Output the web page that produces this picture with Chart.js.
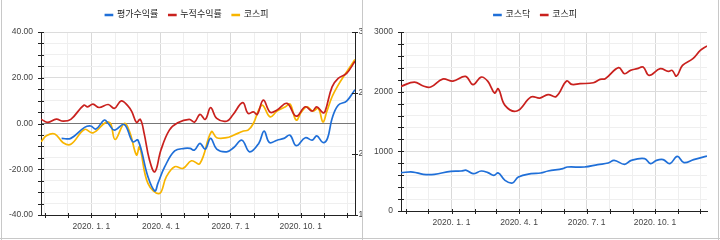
<!DOCTYPE html>
<html lang="ko">
<head>
<meta charset="utf-8">
<script src="https://cdn.jsdelivr.net/npm/chart.js@4.4.0/dist/chart.umd.min.js"></script>
<style>
  html, body { margin: 0; padding: 0; background: #fff; }
  body { width: 720px; height: 240px; position: relative; overflow: hidden; }
  .panel { position: absolute; top: 0; height: 237px; overflow: hidden; }
  #leftPanel { left: 0; width: 362px; }
  #rightPanel { left: 364px; width: 354px; }
  .vline { position: absolute; top: 0; width: 1px; height: 240px; background: #c8c8c8; }
  .hline { position: absolute; left: 0; top: 238px; width: 720px; height: 1px; background: #c8c8c8; }
</style>
</head>
<body>
<div class="panel" id="leftPanel"><canvas id="returnChart" width="374" height="237"></canvas></div>
<div class="panel" id="rightPanel"><canvas id="indexChart" width="354" height="237"></canvas></div>
<div class="vline" style="left:1px"></div>
<div class="vline" style="left:362px"></div>
<div class="vline" style="left:718px"></div>
<div class="hline"></div>
<script>
// 수익률 차트 (왼쪽)
const evalDates = ['2019-11-23','2019-12-05','2019-12-23','2019-12-31','2020-01-07','2020-01-18','2020-01-23','2020-01-31',
  '2020-02-13','2020-02-24','2020-03-02','2020-03-15','2020-03-24','2020-03-28','2020-04-06','2020-04-19','2020-05-02',
  '2020-05-09','2020-05-15','2020-05-22','2020-05-29','2020-06-05','2020-06-13','2020-06-26','2020-07-05','2020-07-16',
  '2020-07-26','2020-08-07','2020-08-14','2020-08-21','2020-08-31','2020-09-09','2020-09-17','2020-09-25','2020-10-07',
  '2020-10-16','2020-10-22','2020-10-30','2020-11-05','2020-11-11','2020-11-19','2020-11-30','2020-12-11'];
const evalReturns = [-6.5,-6.5,-1.7,-1.1,-2.4,1.5,0,-2.9,
  -0.4,-8.0,-7.3,-23.3,-29.5,-26.2,-18.9,-12.0,-10.9,
  -10.9,-11.6,-8.7,-11.2,-6.5,-11.2,-12.4,-10.6,-7.3,
  -12.4,-8.7,-3.3,-8.3,-7.3,-6.5,-5.1,-9.7,-6.2,
  -7.3,-5.4,-8.3,-6.5,2.2,8.0,9.8,14.8];

const cumDates = ['2019-10-27','2019-11-05','2019-11-16','2019-11-25','2019-12-05','2019-12-22','2019-12-27','2020-01-03',
  '2020-01-11','2020-01-23','2020-01-31','2020-02-09','2020-02-18','2020-02-23','2020-02-29','2020-03-05','2020-03-10',
  '2020-03-17','2020-03-24','2020-04-01','2020-04-12','2020-04-23','2020-05-08','2020-05-15','2020-05-22','2020-05-29',
  '2020-06-05','2020-06-13','2020-06-26','2020-07-04','2020-07-17','2020-07-24','2020-07-31','2020-08-05','2020-08-13',
  '2020-08-22','2020-08-31','2020-09-13','2020-09-25','2020-10-07','2020-10-16','2020-10-22','2020-10-30','2020-11-02',
  '2020-11-11','2020-11-19','2020-11-30','2020-12-11'];
const cumReturns = [1.9,0.5,1.9,1.0,1.8,8.0,7.3,8.5,
  7.0,8.3,6.6,9.9,7.6,5.1,0.5,1.8,-4.3,
  -16.0,-21.1,-11.6,-2.9,0.3,1.8,0.6,4.0,1.8,
  6.9,2.2,1.0,3.7,9.1,4.4,5.1,4.0,10.2,
  4.9,5.9,8.8,3.2,7.3,5.4,7.3,4.7,5.4,
  16.0,19.7,21.9,27.2];

const kospiRetDates = ['2019-10-27','2019-11-03','2019-11-14','2019-11-25','2019-12-05','2019-12-23','2020-01-03','2020-01-20',
  '2020-01-26','2020-02-01','2020-02-13','2020-02-20','2020-02-29','2020-03-04','2020-03-15','2020-03-30','2020-04-08',
  '2020-04-19','2020-04-30','2020-05-11','2020-05-22','2020-06-06','2020-06-13','2020-06-26','2020-07-05','2020-07-18',
  '2020-07-24','2020-07-31','2020-08-07','2020-08-12','2020-08-22','2020-08-31','2020-09-11','2020-09-17','2020-09-25',
  '2020-10-02','2020-10-09','2020-10-17','2020-10-24','2020-10-30','2020-11-04','2020-11-11','2020-11-19','2020-11-28',
  '2020-12-11'];
const kospiReturns = [-8.0,-5.4,-4.6,-8.4,-9.1,-2.6,-4.1,0.5,
  0,-7.0,0,-3.6,-13.8,-10.2,-26.2,-30.6,-23.3,
  -18.9,-19.6,-16.3,-17.5,-3.6,-6.2,-6.2,-5.1,-3.3,
  -2.9,0,5.9,8.0,2.9,5.4,7.3,8.5,1.5,
  5.1,7.3,5.4,6.6,0.7,5.1,11.7,16.8,21.5,
  28.0];

// 지수 차트 (오른쪽)
const kosdaqDates = ['2019-10-25','2019-11-10','2019-11-24','2019-12-09','2019-12-31','2020-01-14','2020-01-21','2020-01-30',
  '2020-02-10','2020-02-19','2020-02-27','2020-03-04','2020-03-13','2020-03-23','2020-03-31','2020-04-17','2020-04-30',
  '2020-05-10','2020-05-30','2020-06-05','2020-06-28','2020-07-16','2020-07-30','2020-08-07','2020-08-21','2020-08-30',
  '2020-09-17','2020-09-25','2020-10-03','2020-10-12','2020-10-21','2020-10-31','2020-11-09','2020-11-22','2020-12-10'];
const kosdaqValues = [643,653,615,615,665,670,682,626,
  670,643,598,637,514,469,570,626,637,
  670,710,737,737,777,804,849,782,849,
  878,794,849,861,794,916,811,861,921];

const kospiDates = ['2019-10-25','2019-11-12','2019-11-24','2019-12-04','2019-12-20','2020-01-03','2020-01-20','2020-01-30',
  '2020-02-10','2020-02-19','2020-02-28','2020-03-04','2020-03-13','2020-03-29','2020-04-17','2020-04-29','2020-05-10',
  '2020-05-21','2020-06-04','2020-06-11','2020-06-22','2020-07-10','2020-07-19','2020-07-26','2020-08-13','2020-08-21',
  '2020-08-29','2020-09-07','2020-09-15','2020-09-23','2020-10-08','2020-10-19','2020-10-24','2020-10-30','2020-11-07',
  '2020-11-21','2020-12-01','2020-12-10'];
const kospiValues = [2089,2161,2094,2077,2211,2178,2256,2117,
  2245,2172,1977,2050,1770,1675,1910,1893,1950,
  1920,2178,2122,2134,2150,2206,2218,2402,2301,
  2357,2385,2412,2273,2385,2340,2357,2261,2440,
  2553,2692,2764];

const monthTicks = ['2019-11-01','2019-12-01','2020-01-01','2020-02-01','2020-03-01','2020-04-01','2020-05-01',
  '2020-06-01','2020-07-01','2020-08-01','2020-09-01','2020-10-01','2020-11-01','2020-12-01'];
const quarterTicks = ['2020-01-01','2020-04-01','2020-07-01','2020-10-01'];
const kospiAxisTicks = [1500, 2000, 2500, 3000];

const FONT = "'Liberation Sans', Arial, 'Noto Sans CJK KR', sans-serif";
const BLUE = '#1f6fd8', RED = '#c9211e', YELLOW = '#f8b500';
const DAY0 = Date.UTC(2019, 10, 1);
const toDay = s => (Date.parse(s) - DAY0) / 86400000;
const fmtDay = v => {
  const d = new Date(DAY0 + Math.round(v) * 86400000);
  return `${d.getUTCFullYear()}. ${d.getUTCMonth() + 1}. ${d.getUTCDate()}`;
};
const quarterDays = quarterTicks.map(toDay);
const points = (dates, vals) => dates.map((d, i) => ({ x: toDay(d), y: vals[i] }));

// 축을 가로지르는 짧은 눈금
const crossTicks = {
  id: 'crossTicks',
  afterDraw(chart) {
    const ctx = chart.ctx;
    ctx.save();
    ctx.strokeStyle = '#222';
    ctx.lineWidth = 1;
    Object.values(chart.scales).forEach(scale => {
      scale.ticks.forEach((t, i) => {
        const p = Math.round(scale.getPixelForTick(i)) + 0.5;
        ctx.beginPath();
        if (scale.isHorizontal()) {
          ctx.moveTo(p, scale.top - 2);
          ctx.lineTo(p, scale.top + 3);
        } else {
          const x = scale.position === 'left' ? scale.right : scale.left;
          ctx.moveTo(x - 3, p);
          ctx.lineTo(x + 3, p);
        }
        ctx.stroke();
      });
    });
    ctx.restore();
  }
};

function dateAxis(min, max, height) {
  return {
    type: 'linear',
    min: toDay(min),
    max: toDay(max),
    afterBuildTicks: s => { s.ticks = monthTicks.map(m => ({ value: toDay(m) })); },
    afterFit: s => { s.height = height; },
    ticks: {
      autoSkip: false, maxRotation: 0, padding: 7, color: '#444',
      font: { family: FONT, size: 8.5 },
      callback: v => quarterDays.includes(v) ? fmtDay(v) : ''
    },
    grid: {
      drawTicks: false,
      color: c => quarterDays.includes(c.tick && c.tick.value) ? '#d9d9d9' : '#efefef'
    },
    border: { color: '#222' }
  };
}

const legendOpts = {
  position: 'top',
  labels: { boxWidth: 7, boxHeight: 1, padding: 10.5, color: '#222', font: { family: FONT, size: 9 } }
};
const spacer = { display: true, text: '', weight: 500, padding: 0, font: { size: 2.5, lineHeight: 1 } };
const lineStyle = { borderWidth: 1.7, pointRadius: 0, tension: 0.4, fill: false };

new Chart(document.getElementById('returnChart'), {
  type: 'line',
  data: {
    datasets: [
      { label: '평가수익률', data: points(evalDates, evalReturns), borderColor: BLUE, backgroundColor: BLUE, ...lineStyle },
      { label: '누적수익률', data: points(cumDates, cumReturns), borderColor: RED, backgroundColor: RED, ...lineStyle },
      { label: '코스피', data: points(kospiRetDates, kospiReturns), borderColor: YELLOW, backgroundColor: YELLOW, ...lineStyle }
    ]
  },
  options: {
    responsive: false,
    animation: false,
    layout: { padding: 0 },
    plugins: { legend: legendOpts, subtitle: spacer, tooltip: { enabled: false } },
    scales: {
      x: dateAxis('2019-10-27', '2020-12-11', 22),
      y: {
        position: 'left', min: -40, max: 40,
        afterFit: s => { s.width = 41; },
        ticks: {
          stepSize: 5, autoSkip: false, padding: 8, color: '#444', font: { family: FONT, size: 8.5 },
          callback: v => v % 20 === 0 ? v.toFixed(2) : ''
        },
        grid: {
          drawTicks: false,
          color: c => {
            const v = c.tick.value;
            return v === 0 ? '#777' : (v % 20 === 0 ? '#dcdcdc' : '#efefef');
          }
        },
        border: { color: '#222' }
      },
      y1: {
        position: 'right', min: kospiAxisTicks[0], max: kospiAxisTicks[kospiAxisTicks.length - 1],
        afterFit: s => { s.width = 19; },
        afterBuildTicks: s => { s.ticks = kospiAxisTicks.map(v => ({ value: v })); },
        ticks: { padding: 3.5, color: '#444', font: { family: FONT, size: 8.5 } },
        grid: { drawOnChartArea: false, drawTicks: false },
        border: { color: '#222' }
      }
    }
  },
  plugins: [crossTicks]
});

new Chart(document.getElementById('indexChart'), {
  type: 'line',
  data: {
    datasets: [
      { label: '코스닥', data: points(kosdaqDates, kosdaqValues), borderColor: BLUE, backgroundColor: BLUE, ...lineStyle },
      { label: '코스피', data: points(kospiDates, kospiValues), borderColor: RED, backgroundColor: RED, ...lineStyle }
    ]
  },
  options: {
    responsive: false,
    animation: false,
    layout: { padding: { left: 0, right: 11, top: 0, bottom: 0 } },
    plugins: { legend: legendOpts, subtitle: spacer, tooltip: { enabled: false } },
    scales: {
      x: dateAxis('2019-10-25', '2020-12-10', 26),
      y: {
        position: 'left', min: 0, max: 3000,
        afterFit: s => { s.width = 37; },
        ticks: {
          stepSize: 200, autoSkip: false, padding: 8, color: '#444', font: { family: FONT, size: 8.5 },
          callback: v => v % 1000 === 0 ? String(v) : ''
        },
        grid: {
          drawTicks: false,
          color: c => c.tick.value % 1000 === 0 ? '#dcdcdc' : '#efefef'
        },
        border: { color: '#222' }
      }
    }
  },
  plugins: [crossTicks]
});
</script>
</body>
</html>
